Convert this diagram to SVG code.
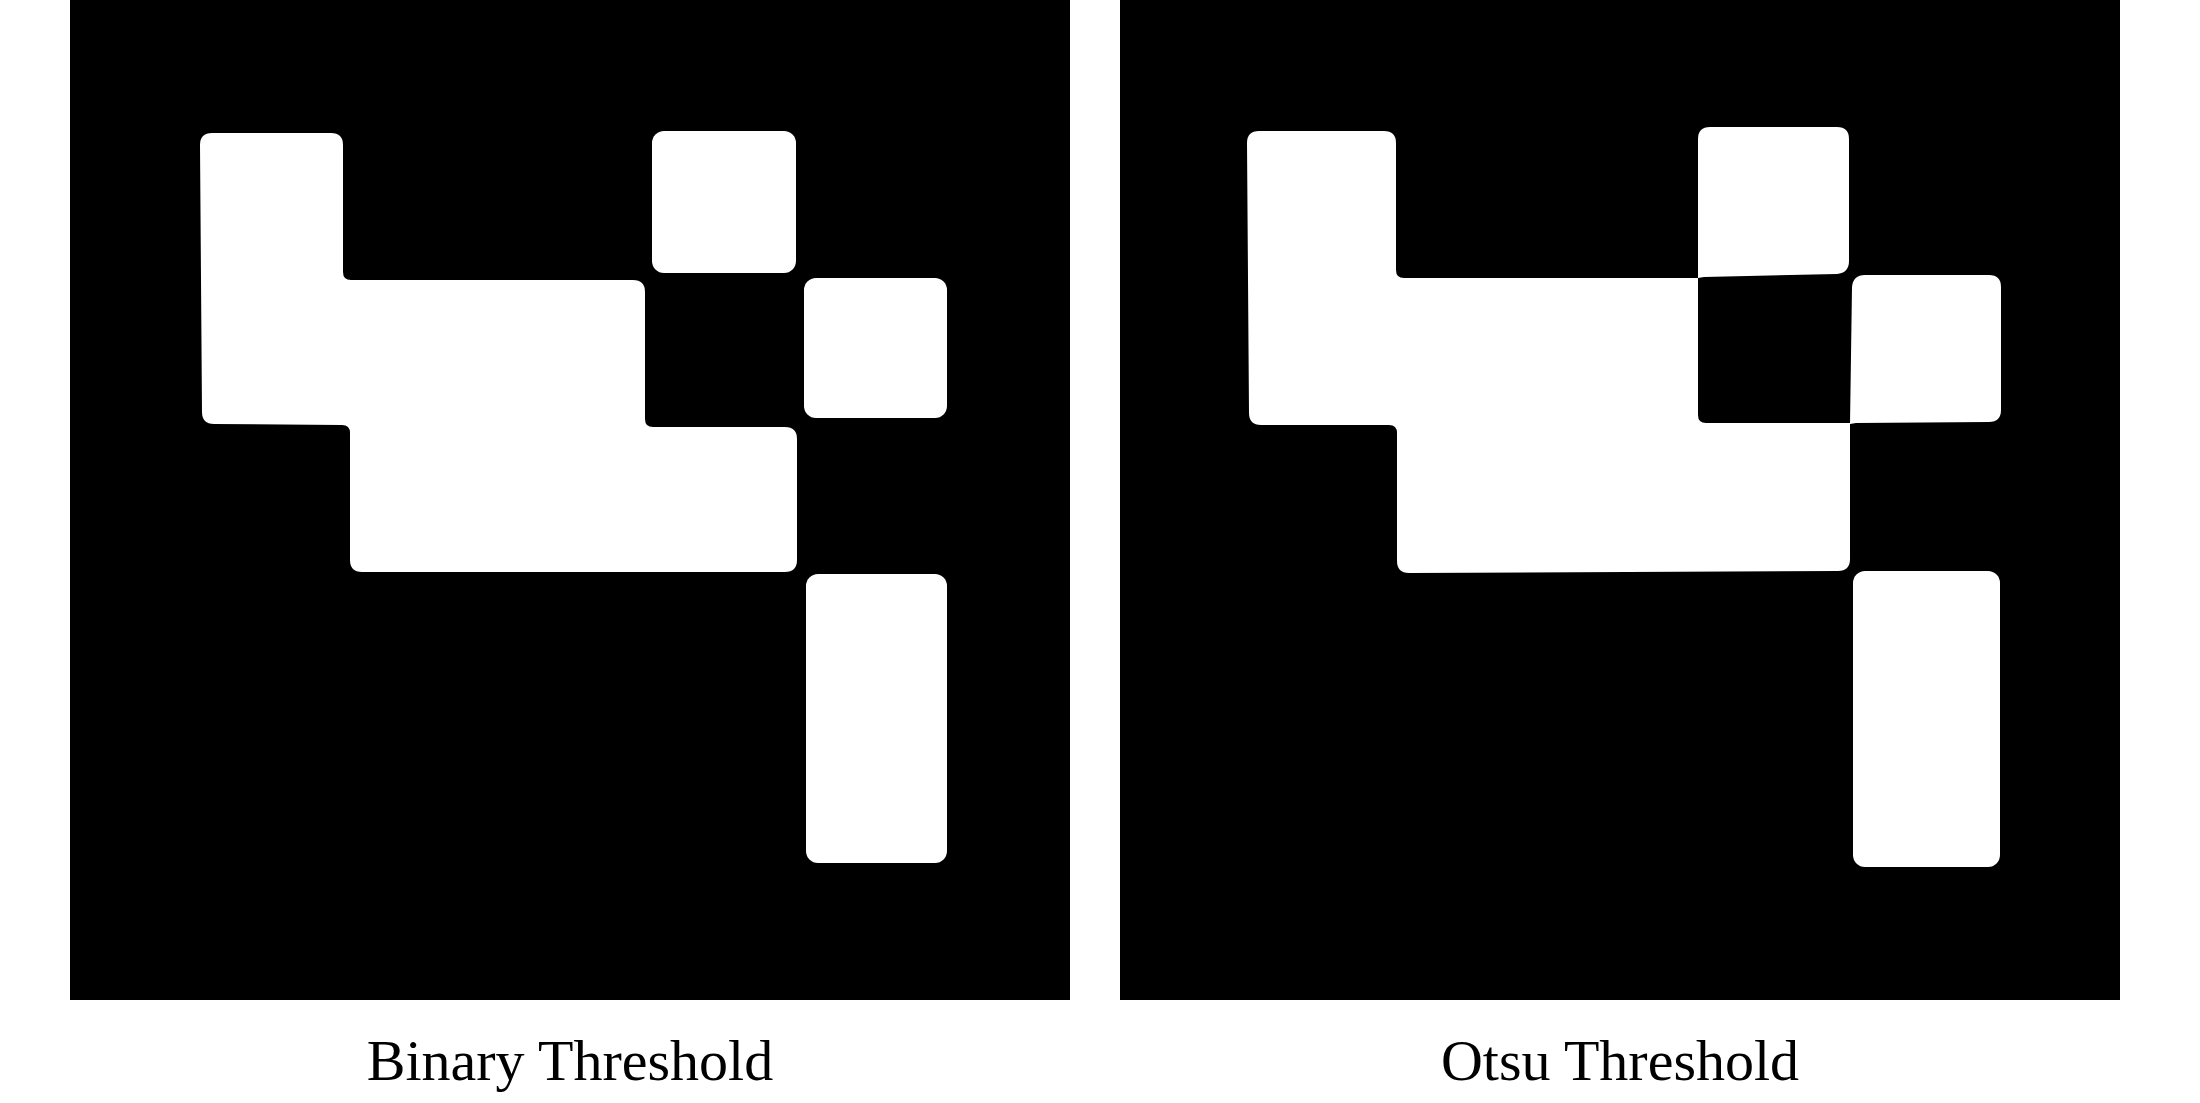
<svg xmlns="http://www.w3.org/2000/svg" width="2200" height="1103" viewBox="0 0 2200 1103">
<style>
.bg{fill:#000000}
.fg{fill:#ffffff}
.cap{font-family:"Liberation Serif","Times New Roman",serif;font-size:58px;fill:#000000;text-anchor:middle}
</style>
<rect x="0" y="0" width="2200" height="1103" fill="#ffffff"/>
<g id="panel-binary">
<rect class="bg" x="70" y="0" width="1000" height="1000"/>
<path class="fg" d="M 212,133 L 331,133 Q 343,133 343,145 L 343,272 Q 343,280 351,280 L 633,280 Q 645,280 645,292 L 645,419 Q 645,427 653,427 L 785,427 Q 797,427 797,439 L 797,560 Q 797,572 785,572 L 362,572 Q 350,572 350,560 L 350,433 Q 350,425 342,425 L 214,424 Q 202,424 202,412 L 200,145 Q 200,133 212,133 Z"/>
<rect class="fg" x="652" y="131" width="144" height="142" rx="12" ry="12"/>
<rect class="fg" x="804" y="278" width="143" height="140" rx="12" ry="12"/>
<rect class="fg" x="806" y="574" width="141" height="289" rx="12" ry="12"/>
<text class="cap" x="570" y="1080">Binary Threshold</text>
</g>
<g id="panel-otsu">
<rect class="bg" x="1120" y="0" width="1000" height="1000"/>
<path class="fg" d="M 1259,131 L 1384,131 Q 1396,131 1396,143 L 1396,270 Q 1396,278 1404,278 L 1698,278 L 1698,415 Q 1698,423 1706,423 L 1850,423 L 1850,559 Q 1850,571 1838,571 L 1409,573 Q 1397,573 1397,561 L 1397,433 Q 1397,425 1389,425 L 1261,425 Q 1249,425 1249,413 L 1247,143 Q 1247,131 1259,131 Z"/>
<path class="fg" d="M 1710,127 L 1837,127 Q 1849,127 1849,139 L 1849,261 Q 1849,273 1837,274 L 1704,277 L 1698,278 L 1698,139 Q 1698,127 1710,127 Z"/>
<path class="fg" d="M 1865,275 L 1989,275 Q 2001,275 2001,287 L 2001,410 Q 2001,422 1989,422 L 1856,423 L 1850,424 L 1852,287 Q 1853,275 1865,275 Z"/>
<rect class="fg" x="1853" y="571" width="147" height="296" rx="12" ry="12"/>
<text class="cap" x="1620" y="1080">Otsu Threshold</text>
</g>
</svg>
